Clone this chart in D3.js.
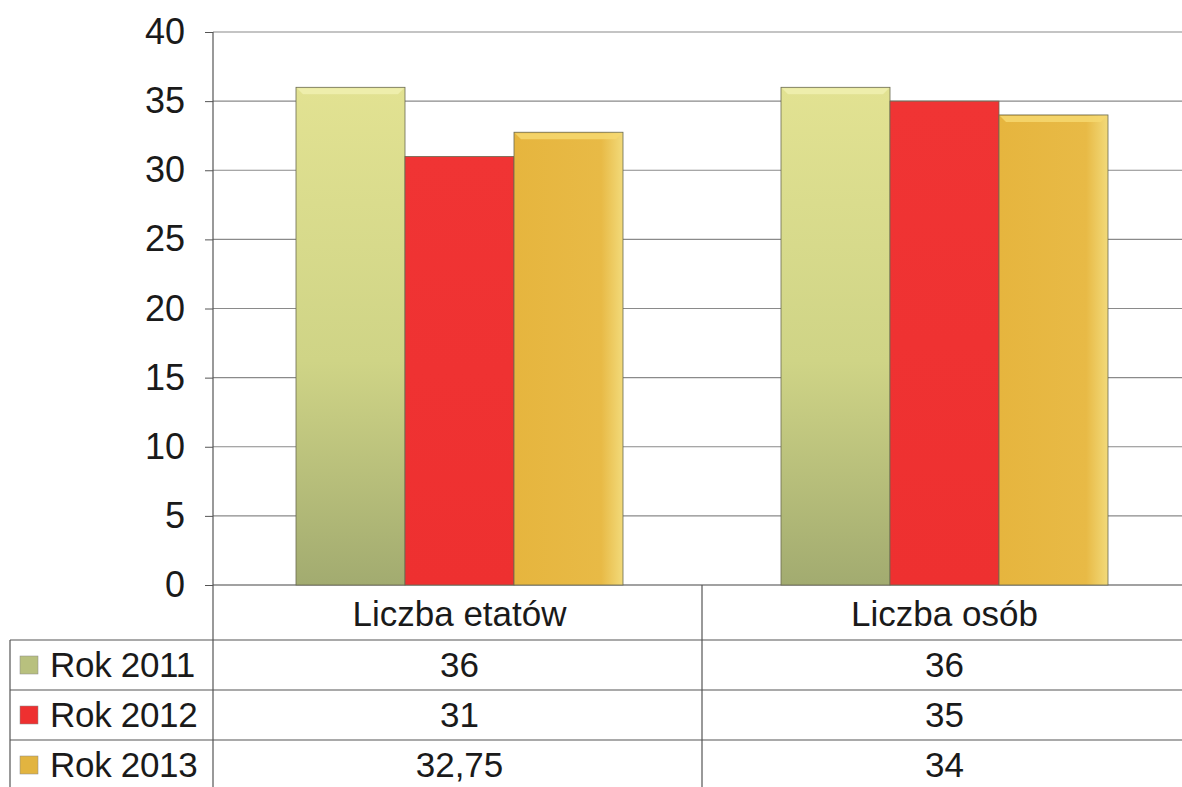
<!DOCTYPE html>
<html>
<head>
<meta charset="utf-8">
<script src="https://cdnjs.cloudflare.com/ajax/libs/d3/7.8.5/d3.min.js"></script>
<style>
  body { margin: 0; background: #fff; }
  svg { display: block; font-family: "Liberation Sans", Arial, sans-serif; }
</style>
</head>
<body>
<svg width="1182" height="787"></svg>
<script>
var categories = ["Liczba etatów", "Liczba osób"];
var series = ["Rok 2011", "Rok 2012", "Rok 2013"];
var values2011 = [36, 36];
var values2012 = [31, 35];
var values2013 = [32.75, 34];
var labels2011 = ["36", "36"];
var labels2012 = ["31", "35"];
var labels2013 = ["32,75", "34"];
var yTicks = [0, 5, 10, 15, 20, 25, 30, 35, 40];

var allValues = [values2011, values2012, values2013];
var allLabels = [labels2011, labels2012, labels2013];

var svg = d3.select("svg");
var w = 1182, h = 787;
var axisX = 213, plotTop = 32, plotBottom = 585;
var rowH = 50, headerBottom = 640;

// gradients for the bevelled bars
var defs = svg.append("defs");
var grads = [
  { id: "g0", stops: [["0%", "#e2e292"], ["55%", "#cfd486"], ["100%", "#a2ab70"]], dir: "v" },
  { id: "g1", stops: [["0%", "#f03434"], ["100%", "#ee3030"]], dir: "v" },
  { id: "g2", stops: [["0%", "#e6b53e"], ["80%", "#e8ba46"], ["100%", "#f2da7a"]], dir: "h" }
];
grads.forEach(function(g) {
  var lg = defs.append("linearGradient").attr("id", g.id);
  if (g.dir == "v") lg.attr("x1", 0).attr("y1", 0).attr("x2", 0).attr("y2", 1);
  else lg.attr("x1", 0).attr("y1", 0).attr("x2", 1).attr("y2", 0);
  g.stops.forEach(function(s) {
    lg.append("stop").attr("offset", s[0]).attr("stop-color", s[1]);
  });
});
var keyColors = ["#b8c07e", "#ee3030", "#e2b440"];
var bevelColors = ["#f0f0b0", "#f45050", "#f6d870"];

var x0 = d3.scaleBand()
    .domain(categories)
    .range([217, 1187]);

var groupW = 327;
var x1 = d3.scaleBand()
    .domain(series)
    .range([(x0.bandwidth() - groupW) / 2, (x0.bandwidth() + groupW) / 2]);

var y = d3.scaleLinear()
    .domain([0, 40])
    .range([plotBottom, plotTop]);

// gridlines
svg.append("g")
    .selectAll("line")
    .data(yTicks)
    .enter()
    .append("line")
    .attr("x1", axisX)
    .attr("x2", w)
    .attr("y1", function(d) { return y(d); })
    .attr("y2", function(d) { return y(d); })
    .attr("stroke", function(d) { return d == 0 ? "#444" : "#8a8a8a"; })
    .attr("stroke-width", 1.2);

// y axis
var yAxis = d3.axisLeft(y)
    .tickValues(yTicks)
    .tickSize(8)
    .tickPadding(20);

var ya = svg.append("g")
    .attr("transform", "translate(" + axisX + ",0)")
    .call(yAxis);
ya.select(".domain").remove();
ya.selectAll(".tick line").attr("stroke", "#555");
ya.selectAll(".tick text")
    .attr("font-size", "36px")
    .attr("fill", "#1a1a1a")
    .attr("font-family", "Liberation Sans, Arial, sans-serif");

// bars
series.forEach(function(s, si) {
  var g = svg.append("g")
      .selectAll("g")
      .data(allValues[si])
      .enter()
      .append("g")
      .attr("transform", function(d, i) {
        return "translate(" + (x0(categories[i]) + x1(s)) + ",0)";
      });

  g.append("rect")
      .attr("x", 0)
      .attr("y", function(d) { return y(d); })
      .attr("width", x1.bandwidth())
      .attr("height", function(d) { return y(0) - y(d); })
      .attr("fill", "url(#g" + si + ")")
      .attr("stroke", "#6a6a50")
      .attr("stroke-width", 0.8);

  if (si != 1) {
    // top bevel highlight
    g.append("path")
        .attr("d", function(d) {
          var bw = x1.bandwidth(), t = y(d);
          return "M1," + (t + 1) + "L" + (bw - 1) + "," + (t + 1) +
                 "L" + (bw - 7) + "," + (t + 7) + "L7," + (t + 7) + "Z";
        })
        .attr("fill", bevelColors[si])
        .attr("opacity", 0.85);
  }
});

// data table
var tbl = svg.append("g");
var tableTop = headerBottom;

tbl.append("line")
    .attr("x1", axisX).attr("x2", axisX)
    .attr("y1", plotTop).attr("y2", h)
    .attr("stroke", "#555").attr("stroke-width", 1.2);

tbl.append("line")
    .attr("x1", 10).attr("x2", 10)
    .attr("y1", tableTop).attr("y2", h)
    .attr("stroke", "#555").attr("stroke-width", 1.2);

tbl.selectAll(".hline")
    .data(series)
    .enter()
    .append("line")
    .attr("x1", 10)
    .attr("x2", w)
    .attr("y1", function(d, i) { return tableTop + i * rowH; })
    .attr("y2", function(d, i) { return tableTop + i * rowH; })
    .attr("stroke", "#555")
    .attr("stroke-width", 1.2);

tbl.selectAll(".vline")
    .data(categories.slice(1))
    .enter()
    .append("line")
    .attr("x1", function(d) { return x0(d); })
    .attr("x2", function(d) { return x0(d); })
    .attr("y1", plotBottom)
    .attr("y2", h)
    .attr("stroke", "#555")
    .attr("stroke-width", 1.2);

// category labels
tbl.selectAll(".cat")
    .data(categories)
    .enter()
    .append("text")
    .text(function(d) { return d; })
    .attr("x", function(d) { return x0(d) + x0.bandwidth() / 2; })
    .attr("y", 626)
    .attr("text-anchor", "middle")
    .attr("font-size", "35px")
    .attr("fill", "#1a1a1a");

// series rows
series.forEach(function(s, si) {
  var cy = tableTop + si * rowH + rowH / 2;
  tbl.append("rect")
      .attr("x", 20)
      .attr("y", cy - 9)
      .attr("width", 18)
      .attr("height", 18)
      .attr("fill", keyColors[si])
      .attr("stroke", "#888")
      .attr("stroke-width", 0.5);
  tbl.append("text")
      .text(s)
      .attr("x", 50)
      .attr("y", cy + 12)
      .attr("font-size", "35px")
      .attr("letter-spacing", "-0.3px")
      .attr("fill", "#1a1a1a");
  tbl.selectAll(".v" + si)
      .data(allLabels[si])
      .enter()
      .append("text")
      .text(function(d) { return d; })
      .attr("x", function(d, i) { return x0(categories[i]) + x0.bandwidth() / 2; })
      .attr("y", cy + 12)
      .attr("text-anchor", "middle")
      .attr("font-size", "35px")
      .attr("fill", "#1a1a1a");
});
</script>
</body>
</html>
